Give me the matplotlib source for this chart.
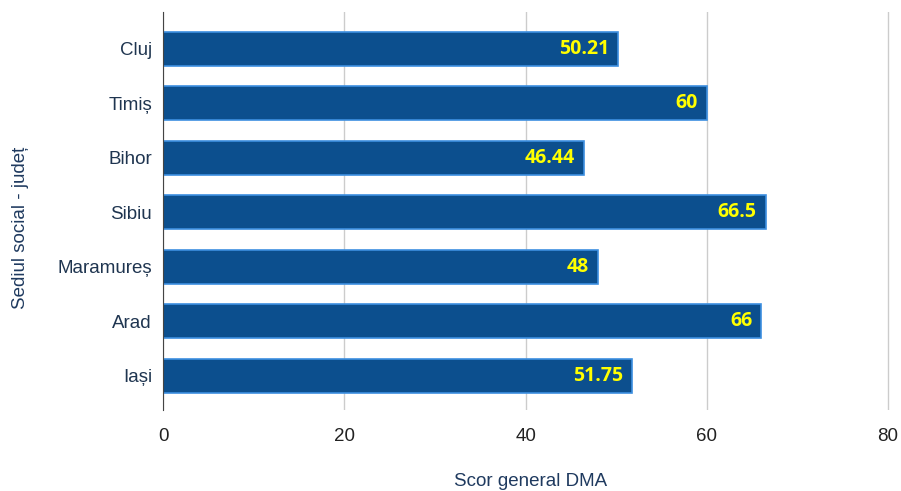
import matplotlib.pyplot as plt

judete = ["Cluj", "Timiș", "Bihor", "Sibiu", "Maramureș", "Arad", "Iași"]
scoruri = [50.21, 60, 46.44, 66.5, 48, 66, 51.75]
etichete = ["50.21", "60", "46.44", "66.5", "48", "66", "51.75"]

plt.rcParams["font.family"] = ["Liberation Sans", "DejaVu Sans"]

fig = plt.figure(figsize=(9.01, 4.91), dpi=100)
ax = fig.add_axes([0.181, 0.165, 0.8147, 0.811])

y = range(len(judete))
bars = ax.barh(y, scoruri, height=0.63, color="#0c4f8e", edgecolor="#3d8fe0", linewidth=1.2, zorder=3)

for b, t in zip(bars, etichete):
    ax.text(b.get_width() - 1.0, b.get_y() + b.get_height() / 2, t,
            ha="right", va="center", color="#ffff00", fontsize=14,
            fontweight="bold", family=["Open Sans", "DejaVu Sans"], zorder=4)

ax.set_xlim(0, 81)
ax.set_ylim(6.63, -0.68)
ax.set_yticks(list(y))
ax.set_yticklabels(judete)
ax.set_xticks([0, 20, 40, 60, 80])

# only vertical grid
ax.grid(axis="x", color="#cccccc", linewidth=1, zorder=0)
for s in ["top", "right", "bottom"]:
    ax.spines[s].set_visible(False)
ax.spines["left"].set_color("#444444")
ax.spines["left"].set_zorder(5)
ax.tick_params(length=0, labelsize=13.5)
ax.tick_params(axis="x", pad=13, colors="#222222")
ax.tick_params(axis="y", pad=8, colors="#1f3550")

ax.set_xlabel("Scor general DMA", fontsize=13.5, color="#1f3a5f", labelpad=20)
ax.set_ylabel("Sediul social - județ", fontsize=13.5, color="#1f3a5f")
ax.yaxis.set_label_coords(-0.183, 0.457)

fig.savefig("out.png", dpi=100)
